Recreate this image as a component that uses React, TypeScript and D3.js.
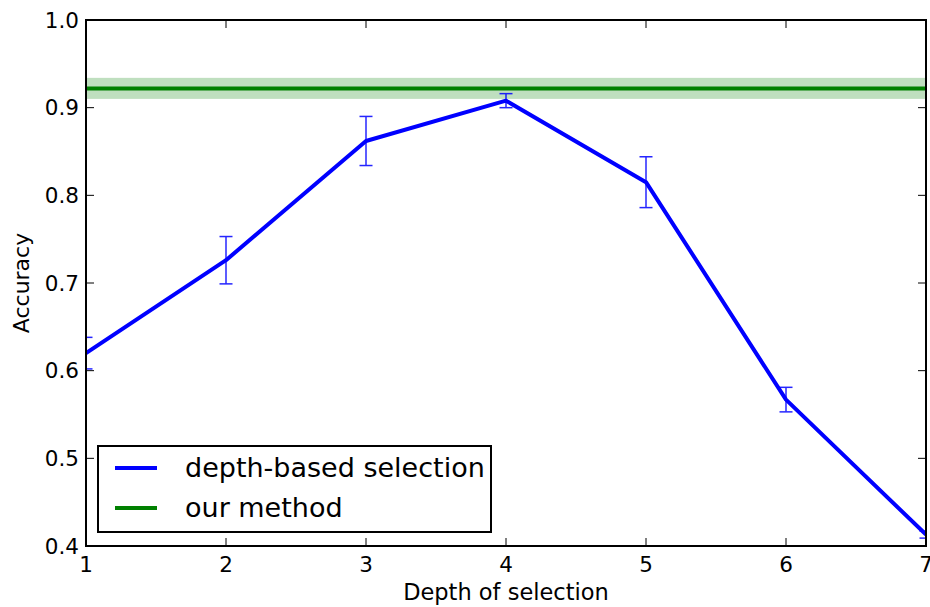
import React from 'react';
import * as d3 from 'd3';

const depths = [1, 2, 3, 4, 5, 6, 7];
const accuracy = [0.62, 0.726, 0.862, 0.908, 0.815, 0.567, 0.413];
const accuracyErr = [0.018, 0.027, 0.028, 0.008, 0.029, 0.014, 0.004];
const ourMethod = 0.922;
const ourMethodStd = 0.012;
const xTicks = [1, 2, 3, 4, 5, 6, 7];
const yTicks = [0.4, 0.5, 0.6, 0.7, 0.8, 0.9, 1.0];
const legendItems = [
  { label: 'depth-based selection', color: '#0000ff' },
  { label: 'our method', color: '#008000' },
];

const width = 930;
const height = 607;
const margin = { top: 20, right: 4, bottom: 61, left: 86 };
const font = 'DejaVu Sans, sans-serif';

const App = () => {
  const x = d3.scaleLinear()
    .domain([1, 7])
    .range([margin.left, width - margin.right]);

  const y = d3.scaleLinear()
    .domain([0.4, 1.0])
    .range([height - margin.bottom, margin.top]);

  const data = depths.map((d, i) => ({ depth: d, acc: accuracy[i], err: accuracyErr[i] }));

  const line = d3.line<{ depth: number; acc: number }>()
    .x(d => x(d.depth))
    .y(d => y(d.acc));

  const x0 = margin.left;
  const x1 = width - margin.right;
  const y0 = margin.top;
  const y1 = height - margin.bottom;
  const tick = 8;
  const cap = 6.5;

  return (
    <svg width={width} height={height} style={{ position: 'absolute', left: 0, top: 0, background: 'white' }}>
      <defs>
        <clipPath id="clip">
          <rect x={x0} y={y0} width={x1 - x0} height={y1 - y0} />
        </clipPath>
      </defs>

      <g clipPath="url(#clip)">
        {/* our method band and line */}
        <rect
          x={x0}
          width={x1 - x0}
          y={y(ourMethod + ourMethodStd)}
          height={y(ourMethod - ourMethodStd) - y(ourMethod + ourMethodStd)}
          fill="#008000"
          fillOpacity={0.25}
        />
        <line x1={x0} x2={x1} y1={y(ourMethod)} y2={y(ourMethod)} stroke="#008000" strokeWidth={4} />

        {/* depth-based selection */}
        <path d={line(data) ?? ''} fill="none" stroke="#0000ff" strokeWidth={4} strokeLinejoin="round" />
        {data.map((d, i) => (
          <g key={i} stroke="#0000ff" strokeWidth={1.5} opacity={0.85}>
            <line x1={x(d.depth)} x2={x(d.depth)} y1={y(d.acc - d.err)} y2={y(d.acc + d.err)} />
            <line x1={x(d.depth) - cap} x2={x(d.depth) + cap} y1={y(d.acc + d.err)} y2={y(d.acc + d.err)} />
            <line x1={x(d.depth) - cap} x2={x(d.depth) + cap} y1={y(d.acc - d.err)} y2={y(d.acc - d.err)} />
          </g>
        ))}
      </g>

      {/* ticks, inward on all sides */}
      <g stroke="#000" strokeWidth={1}>
        {xTicks.map(t => (
          <g key={t}>
            <line x1={x(t)} x2={x(t)} y1={y1} y2={y1 - tick} />
            <line x1={x(t)} x2={x(t)} y1={y0} y2={y0 + tick} />
          </g>
        ))}
        {yTicks.map(t => (
          <g key={t}>
            <line x1={x0} x2={x0 + tick} y1={y(t)} y2={y(t)} />
            <line x1={x1} x2={x1 - tick} y1={y(t)} y2={y(t)} />
          </g>
        ))}
      </g>

      {/* frame */}
      <rect x={x0} y={y0} width={x1 - x0} height={y1 - y0} fill="none" stroke="#000" strokeWidth={2} />

      {/* tick labels */}
      <g fontFamily={font} fontSize={21.5} fill="#000">
        {xTicks.map(t => (
          <text key={t} x={x(t)} y={y1 + 26} textAnchor="middle">{t}</text>
        ))}
        {yTicks.map(t => (
          <text key={t} x={x0 - 7} y={y(t) + 7.5} textAnchor="end">{t.toFixed(1)}</text>
        ))}
      </g>

      {/* axis labels */}
      <text x={(x0 + x1) / 2} y={y1 + 54} textAnchor="middle" fontFamily={font} fontSize={22.5}>
        Depth of selection
      </text>
      <text
        transform={`translate(29,${(y0 + y1) / 2}) rotate(-90)`}
        textAnchor="middle"
        fontFamily={font}
        fontSize={22}
      >
        Accuracy
      </text>

      {/* legend */}
      <g>
        <rect x={98} y={446} width={393} height={86} fill="white" stroke="#000" strokeWidth={2} />
        {legendItems.map((item, i) => (
          <g key={item.label} transform={`translate(0,${468 + i * 40})`}>
            <line x1={115} x2={157} y1={0} y2={0} stroke={item.color} strokeWidth={4} />
            <text x={185} y={9} fontFamily={font} fontSize={27}>{item.label}</text>
          </g>
        ))}
      </g>
    </svg>
  );
};

export default App;
